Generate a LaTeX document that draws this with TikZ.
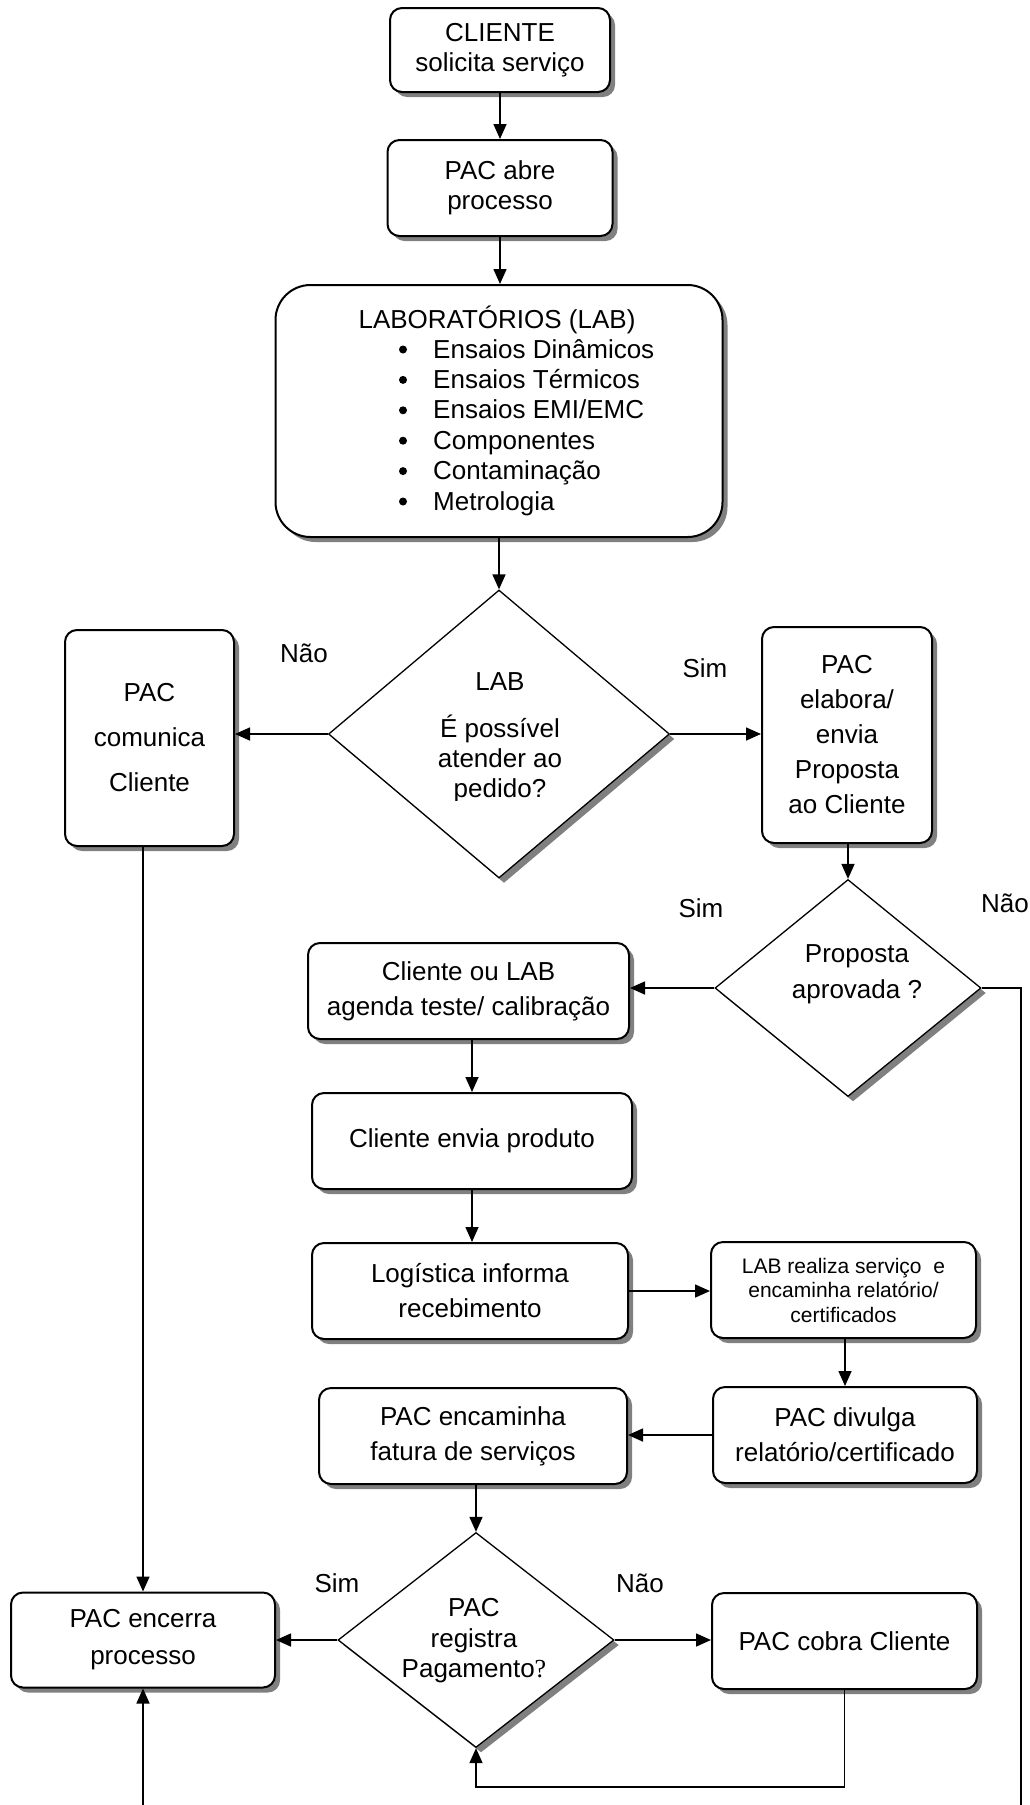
\documentclass[tikz,border=0pt]{standalone}
\usepackage{fontspec}
\setmainfont{Liberation Sans}
\newfontfamily\serifq{Liberation Serif}
\usetikzlibrary{shapes.geometric,arrows.meta,shadows}

\tikzset{
  shade/.style={drop shadow={shadow xshift=5pt, shadow yshift=-5pt, fill=black!50, opacity=1}},
  box/.style={draw, line width=2pt, rounded corners=12pt, fill=white, align=center,
    inner sep=0pt, shade, font=\fontsize{26}{35}\selectfont},
  dia/.style={draw, diamond, line width=1.3pt, fill=white, inner sep=0pt, shade},
  dtext/.style={align=center, inner sep=0pt, anchor=north, font=\fontsize{26}{30}\selectfont},
  lbl/.style={inner sep=0pt, font=\fontsize{26}{30}\selectfont},
  flow/.style={line width=1.6pt, -{Triangle[length=15pt,width=13pt]}},
}

\begin{document}
\begin{tikzpicture}[x=1pt, y=-1pt]
\useasboundingbox (0,0) rectangle (1030,1805);
\clip (0,0) rectangle (1030,1805);

% process boxes
\node[box, minimum width=220pt, minimum height=84pt, font=\fontsize{26}{30}\selectfont]
  (cliente) at (500,50) {CLIENTE\\solicita serviço};
\node[box, minimum width=225pt, minimum height=96pt, font=\fontsize{26}{30}\selectfont]
  (abre) at (500,188) {PAC abre\\processo};
\node[box, rounded corners=35pt, minimum width=447pt, minimum height=252pt]
  (lab) at (499,411) {};
\node[lbl, anchor=base] (labtitle) at (497,328) {LABORATÓRIOS (LAB)};
\foreach \t [count=\i] in {Ensaios Dinâmicos, Ensaios Térmicos, Ensaios EMI/EMC,
    Componentes, Contaminação, Metrologia} {
  \fill (403,{327.6+30.4*\i-8.5}) circle (4pt);
  \node[lbl, anchor=base west] (item\i) at (433,{327.6+30.4*\i}) {\t};
}

\node[box, minimum width=169pt, minimum height=216pt, font=\fontsize{26}{45}\selectfont]
  (comunica) at (149.5,738) {PAC\\comunica\\Cliente};
\node[box, minimum width=170pt, minimum height=216pt]
  (elabora) at (847,735) {PAC\\elabora/\\envia\\Proposta\\ao Cliente};
\node[box, minimum width=321pt, minimum height=96pt]
  (agenda) at (468.5,991) {Cliente ou LAB\\agenda teste/ calibração};
\node[box, minimum width=320pt, minimum height=96pt]
  (envia) at (472,1141) {Cliente envia produto};
\node[box, minimum width=316pt, minimum height=96pt]
  (logistica) at (470,1291) {Logística informa\\recebimento};
\node[box, minimum width=265pt, minimum height=96pt, font=\fontsize{21}{24.5}\selectfont]
  (realiza) at (843.5,1290) {LAB realiza serviço\ \ e\\encaminha relatório/\\certificados};
\node[box, minimum width=264pt, minimum height=96pt]
  (divulga) at (845,1435) {PAC divulga\\relatório/certificado};
\node[box, minimum width=308pt, minimum height=96pt]
  (encaminha) at (473,1436) {PAC encaminha\\fatura de serviços};
\node[box, minimum width=264pt, minimum height=95pt, font=\fontsize{26}{37}\selectfont]
  (encerra) at (143,1640) {PAC encerra\\processo};
\node[box, minimum width=265pt, minimum height=96pt]
  (cobra) at (844.5,1641) {PAC cobra Cliente};

% decisions
\node[dia, minimum width=341pt, minimum height=288pt] (d1) at (499,734) {};
\begin{scope}
  \clip (320,600) rectangle (680,800.5);
  \node[dtext] (q1) at (500,672.4) {LAB\\[17pt]É possível\\atender ao\\pedido?};
\end{scope}
\node[dia, minimum width=266pt, minimum height=217pt] (d2) at (848,988) {};
\node[dtext, font=\fontsize{26}{36}\selectfont] (q2) at (857,944.4) {Proposta\\aprovada ?};
\node[dia, minimum width=276pt, minimum height=215pt] (d3) at (476,1640) {};
\node[dtext, font=\fontsize{26}{30.5}\selectfont] (q3) at (474,1598.4)
  {PAC\\registra\\Pagamento{\serifq ?}};

% branch labels
\node[lbl] (n1) at (304,653) {Não};
\node[lbl] (s1) at (705,668) {Sim};
\node[lbl] (s2) at (701,908) {Sim};
\node[lbl] (n2) at (1005,903) {Não};
\node[lbl] (s3) at (337,1583) {Sim};
\node[lbl] (n3) at (640,1583) {Não};

% helper points for the routed connectors
\coordinate (loopb) at (849,1787);
\coordinate (rail) at (1021,1830);

% connectors
\draw[flow] (cliente.south) -- (cliente.south |- abre.north);
\draw[flow] (abre.south) -- (abre.south |- lab.north);
\draw[flow] (lab.south) -- (d1.north);
\draw[flow] (d1.west) -- (d1.west -| comunica.east);
\draw[flow] (d1.east) -- (d1.east -| elabora.west);
\draw[flow] (d2.north |- elabora.south) -- (d2.north);
\draw[flow] (d2.west) -- (d2.west -| agenda.east);
\draw[flow] (envia.north |- agenda.south) -- (envia.north);
\draw[flow] (envia.south) -- (envia.south |- logistica.north);
\draw[flow] (logistica.east) -- (logistica.east -| realiza.west);
\draw[flow] (divulga.north |- realiza.south) -- (divulga.north);
\draw[flow] (divulga.west) -- (divulga.west -| encaminha.east);
\draw[flow] (d3.north |- encaminha.south) -- (d3.north);
\draw[flow] (d3.west) -- (d3.west -| encerra.east);
\draw[flow] (d3.east) -- (d3.east -| cobra.west);
\draw[flow] (cobra.south) -- (cobra.south |- loopb) -- (d3.south |- loopb) -- (d3.south);
\draw[flow] (encerra.north |- comunica.south) -- (encerra.north);
\draw[flow] (d2.east) -- (d2.east -| rail) -- (rail) -- (rail -| encerra.south) -- (encerra.south);
\end{tikzpicture}
\end{document}
